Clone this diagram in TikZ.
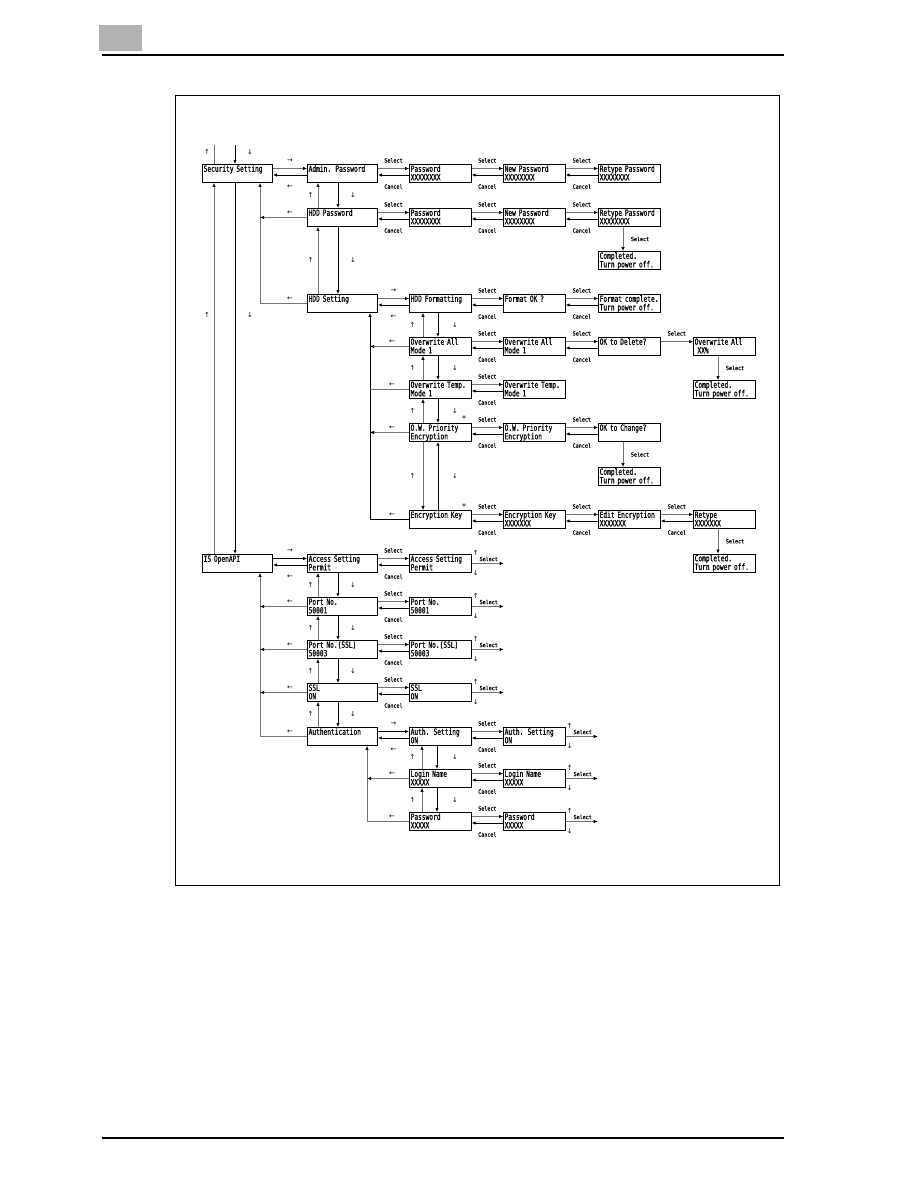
\documentclass[tikz,border=0pt]{standalone}
\usepackage{fontspec}
\usetikzlibrary{arrows.meta,calc}
\newfontfamily\boxfont[FakeStretch=0.73,FakeBold=0.6]{DejaVu Sans Mono}
\newfontfamily\lblfont[FakeStretch=0.9,FakeBold=0.4]{DejaVu Sans Mono}
\newfontfamily\arrfont{DejaVu Sans}
\tikzset{
  bx/.style={draw, line width=0.9pt, anchor=north west, inner xsep=1.2pt, inner ysep=0pt,
    text height=7.3pt, text depth=10.7pt, align=left,
    font={\boxfont\fontsize{8.5pt}{8.6pt}\selectfont\hyphenpenalty=10000\relax}},
  bA/.style={bx, text width=67.6pt},
  bC/.style={bx, text width=59.4pt},
  ln/.style={line width=0.8pt, draw=black},
  lt/.style={line width=0.6pt, draw=black!55},
  arw/.style={-{Latex[length=4pt,width=3.4pt,color=black]}},
  sl/.style={inner sep=0pt, font={\lblfont\fontsize{5.6pt}{6pt}\selectfont}},
  ar/.style={inner sep=0pt, font={\arrfont\fontsize{6.8pt}{7pt}\selectfont}},
  st/.style={inner sep=0pt, font={\arrfont\fontsize{8pt}{8pt}\selectfont}},
}
\newcommand\mySC[2]{%
  \draw[lt,arw] ([yshift=-4.5pt]#1.north east) -- ([yshift=-4.5pt]#2.north west);
  \draw[ln,arw] ([yshift=-11pt]#2.north west) -- ([yshift=-11pt]#1.north east);
  \node[sl,yshift=3.6pt] (#1#2s) at ($(#1.north east)!0.5!(#2.north west)$) {Select};
  \node[sl,yshift=-22.5pt] (#1#2c) at ($(#1.north east)!0.5!(#2.north west)$) {Cancel};
}
\newcommand\myNH[3][ln]{%
  \draw[#1,arw] ([yshift=-4.5pt]#2.north east) -- ([yshift=-4.5pt]#3.north west);
  \draw[ln,arw] ([yshift=-11pt]#3.north west) -- ([yshift=-11pt]#2.north east);
  \node[ar,yshift=3.6pt] (#2#3r) at ($(#2.north east)!0.5!(#3.north west)$) {→};
  \node[ar,yshift=-22.5pt] (#2#3l) at ($(#2.north east)!0.5!(#3.north west)$) {←};
}
\newcommand\myNV[4]{%
  \draw[lt,arw] ([xshift=#3]#2.north west) -- ([xshift=#3]#1.south west);
  \draw[ln,arw] ([xshift=#4]#1.south west) -- ([xshift=#4]#2.north west);
  \node[ar,xshift=3.5pt] (#1#2u) at ($(#1.south west)!0.5!(#2.north west)$) {↑};
  \node[ar,xshift=46pt] (#1#2d) at ($(#1.south west)!0.5!(#2.north west)$) {↓};
}
\newcommand\myVS[2]{%
  \draw[lt,arw] ([xshift=25pt]#1.south west) -- ([xshift=25pt]#2.north west);
  \node[sl,xshift=42pt] (#1#2v) at ($(#1.south west)!0.5!(#2.north west)$) {Select};
}
\newcommand\myTR[1]{%
  \coordinate (#1t) at ([xshift=32pt]#1.east);
  \draw[lt,arw] (#1.east) -- (#1t);
  \node[ar,xshift=4pt,yshift=1pt] (#1tu) at (#1.north east) {↑};
  \node[sl,xshift=17pt,yshift=-5pt] (#1ts) at (#1.north east) {Select};
  \node[ar,xshift=4pt,yshift=0pt] (#1td) at (#1.south east) {↓};
}
\newcommand\myBL[1]{\node[ar,xshift=-17pt,yshift=4.5pt] (#1bl) at (#1.west) {←};}
\begin{document}
\begin{tikzpicture}[x=1pt,y=-1pt]
\useasboundingbox (0,0) rectangle (918,1188);
% page header / footer
\fill[black!30] (99,25) rectangle (142,51);
\draw[line width=1.2pt] (102,55) -- (784,55);
\draw[line width=1.2pt] (102,1138) -- (784,1138);
\draw[line width=0.9pt] (175,95) rectangle (779,885);
% boxes
\node[bA] (sec) at (202,164) {\mbox{Security Setting}};
\node[bA] (adm) at (307,164) {\mbox{Admin. Password}};
\node[bC] (pwa) at (409,164) {Password\\XXXXXXXX};
\node[bC] (npa) at (503,164) {\mbox{New Password}\\XXXXXXXX};
\node[bC] (rpa) at (598,164) {\mbox{Retype Password}\\XXXXXXXX};
\node[bA] (hddp) at (307,208) {\mbox{HDD Password}};
\node[bC] (pwb) at (409,208) {Password\\XXXXXXXX};
\node[bC] (npb) at (503,208) {\mbox{New Password}\\XXXXXXXX};
\node[bC] (rpb) at (598,208) {\mbox{Retype Password}\\XXXXXXXX};
\node[bC] (cpb) at (598,251) {Completed.\\\mbox{Turn power off.}};
\node[bA] (hdds) at (307,294) {\mbox{HDD Setting}};
\node[bC] (hddf) at (409,294) {\mbox{HDD Formatting}};
\node[bC] (fok) at (503,294) {\mbox{Format OK ?}};
\node[bC] (fcp) at (598,294) {\mbox{Format complete.}\\\mbox{Turn power off.}};
\node[bC] (owa) at (409,337) {\mbox{Overwrite All}\\Mode 1};
\node[bC] (owa2) at (503,337) {\mbox{Overwrite All}\\Mode 1};
\node[bC] (okd) at (598,337) {\mbox{OK to Delete?}};
\node[bC] (owx) at (693,337) {\mbox{Overwrite All}\\~XX\%};
\node[bC] (owt) at (409,380) {\mbox{Overwrite Temp.}\\Mode 1};
\node[bC] (owt2) at (503,380) {\mbox{Overwrite Temp.}\\Mode 1};
\node[bC] (cpx) at (693,380) {Completed.\\\mbox{Turn power off.}};
\node[bC] (owp) at (409,423) {\mbox{O.W. Priority}\\Encryption};
\node[bC] (owp2) at (503,423) {\mbox{O.W. Priority}\\Encryption};
\node[bC] (okc) at (598,423) {\mbox{OK to Change?}};
\node[bC] (cpc) at (598,467) {Completed.\\\mbox{Turn power off.}};
\node[bC] (enck) at (409,510) {\mbox{Encryption Key}};
\node[bC] (enck2) at (503,510) {\mbox{Encryption Key}\\XXXXXXX};
\node[bC] (edit) at (598,510) {\mbox{Edit Encryption}\\XXXXXXX};
\node[bC] (rtp) at (693,510) {Retype\\XXXXXXX};
\node[bC] (cpr) at (693,553.5) {Completed.\\\mbox{Turn power off.}};
\node[bA] (isapi) at (202,554) {\mbox{IS OpenAPI}};
\node[bA] (acc) at (307,554) {\mbox{Access Setting}\\Permit};
\node[bC] (acc2) at (409,554) {\mbox{Access Setting}\\Permit};
\node[bA] (port) at (307,597) {\mbox{Port No.}\\50001};
\node[bC] (port2) at (409,597) {\mbox{Port No.}\\50001};
\node[bA] (pssl) at (307,640) {\mbox{Port No.(SSL)}\\50003};
\node[bC] (pssl2) at (409,640) {\mbox{Port No.(SSL)}\\50003};
\node[bA] (ssl) at (307,683) {SSL\\ON};
\node[bC] (ssl2) at (409,683) {SSL\\ON};
\node[bA] (auth) at (307,727) {Authentication};
\node[bC] (auths) at (409,727) {\mbox{Auth. Setting}\\ON};
\node[bC] (auths2) at (503,727) {\mbox{Auth. Setting}\\ON};
\node[bC] (login) at (409,769) {\mbox{Login Name}\\XXXXX};
\node[bC] (login2) at (503,769) {\mbox{Login Name}\\XXXXX};
\node[bC] (pwd) at (409,812) {Password\\XXXXX};
\node[bC] (pwd2) at (503,812) {Password\\XXXXX};
% entry lines above Security Setting
\coordinate (tl) at (214,145);
\coordinate (tr) at (235,145);
\draw[lt] (tl) -- (tl |- sec.north);
\draw[ln,arw] (tr) -- (tr |- sec.north);
\node[ar] (lu1) at (207,152) {↑};
\node[ar] (ld1) at (250,152) {↓};
\draw[lt,arw] (tl |- isapi.north) -- (tl |- sec.south);
\draw[ln,arw] (tr |- sec.south) -- (tr |- isapi.north);
\node[ar] (lu2) at (207,315) {↑};
\node[ar] (ld2) at (250,315) {↓};
% security setting group
\myNH[lt]{sec}{adm}
\mySC{adm}{pwa} \mySC{pwa}{npa} \mySC{npa}{rpa}
\myNV{adm}{hddp}{11pt}{31pt}
\mySC{hddp}{pwb} \mySC{pwb}{npb} \mySC{npb}{rpb}
\myVS{rpb}{cpb}
\myNV{hddp}{hdds}{11pt}{31pt}
\coordinate (bk1) at (260,0);
\draw[lt,arw] (hdds.west) -| (bk1 |- sec.south);
\draw[lt,arw] (hddp.west) -- (hddp.west -| bk1);
\myBL{hddp} \myBL{hdds}
% HDD setting group
\myNH[lt]{hdds}{hddf}
\mySC{hddf}{fok} \mySC{fok}{fcp}
\myNV{hddf}{owa}{14pt}{29pt}
\mySC{owa}{owa2} \mySC{owa2}{okd}
\draw[lt,arw] ([yshift=-4.7pt]okd.north east) -- ([yshift=-4.7pt]owx.north west);
\node[sl,yshift=3.6pt] (okdowxs) at ($(okd.north east)!0.5!(owx.north west)$) {Select};
\myVS{owx}{cpx}
\myNV{owa}{owt}{14pt}{29pt}
\mySC{owt}{owt2}
\myNV{owt}{owp}{14pt}{29pt}
\node[st] (st1) at (464,419) {*};
\mySC{owp}{owp2} \mySC{owp2}{okc}
\myVS{okc}{cpc}
\draw[lt,arw] ([xshift=14pt]owp.south west) -- ([xshift=14pt]enck.north west);
\draw[ln,arw] ([xshift=29pt]enck.north west) -- ([xshift=29pt]owp.south west);
\node[ar,xshift=3.5pt] (owpencku) at ($(owp.south west)!0.5!(enck.north west)$) {↑};
\node[ar,xshift=46pt] (owpenckd) at ($(owp.south west)!0.5!(enck.north west)$) {↓};
\node[st] (st2) at (464,507) {*};
\mySC{enck}{enck2} \mySC{enck2}{edit} \mySC{edit}{rtp}
\myVS{rtp}{cpr}
\coordinate (bk2) at (370,0);
\draw[ln,arw] (enck.west) -| (bk2 |- hdds.south);
\draw[lt,arw] (owa.west) -- (owa.west -| bk2);
\draw[lt] (owt.west) -- (owt.west -| bk2);
\draw[lt,arw] (owp.west) -- (owp.west -| bk2);
\myBL{owa} \myBL{owt} \myBL{owp} \myBL{enck}
% IS OpenAPI group
\myNH{isapi}{acc}
\mySC{acc}{acc2} \myTR{acc2}
\myNV{acc}{port}{11pt}{31pt}
\mySC{port}{port2} \myTR{port2}
\myNV{port}{pssl}{11pt}{31pt}
\mySC{pssl}{pssl2} \myTR{pssl2}
\myNV{pssl}{ssl}{11pt}{31pt}
\mySC{ssl}{ssl2} \myTR{ssl2}
\myNV{ssl}{auth}{11pt}{31pt}
\draw[lt,arw] (auth.west) -| (bk1 |- isapi.south);
\draw[lt,arw] (port.west) -- (port.west -| bk1);
\draw[lt,arw] (pssl.west) -- (pssl.west -| bk1);
\draw[lt,arw] (ssl.west) -- (ssl.west -| bk1);
\myBL{port} \myBL{pssl} \myBL{ssl} \myBL{auth}
% Authentication group
\myNH{auth}{auths}
\mySC{auths}{auths2} \myTR{auths2}
\myNV{auths}{login}{13pt}{28pt}
\mySC{login}{login2} \myTR{login2}
\myNV{login}{pwd}{13pt}{28pt}
\mySC{pwd}{pwd2} \myTR{pwd2}
\coordinate (bk3) at (367,0);
\draw[lt,arw] (pwd.west) -| (bk3 |- auth.south);
\draw[lt,arw] (login.west) -- (login.west -| bk3);
\myBL{login} \myBL{pwd}
\end{tikzpicture}
\end{document}
